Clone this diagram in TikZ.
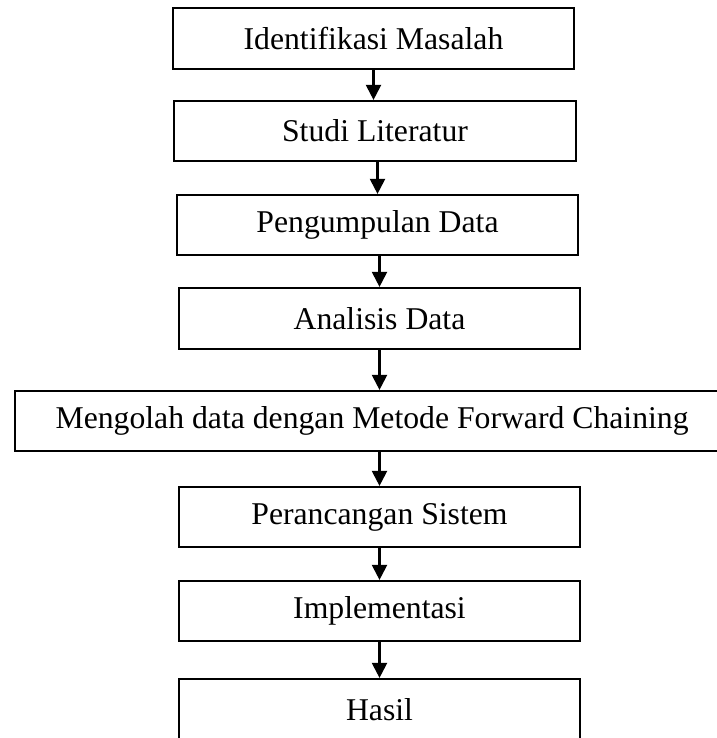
\documentclass[tikz,border=0pt]{standalone}
\usepackage{fontspec}
\setmainfont{Liberation Serif}
\usetikzlibrary{arrows.meta}
\begin{document}
\begin{tikzpicture}[x=1bp,y=-1bp,
  stepbox/.style={draw=black,line width=2.2bp,inner sep=0pt,fill=white,
    font=\fontsize{31.7bp}{38bp}\selectfont},
  flow/.style={line width=2.2bp,-{Triangle[width=15bp,length=15bp]}}]
\clip (0,0) rectangle (717,738);
\fill[white] (0,0) rectangle (717,738);
\node[stepbox,minimum width=401bp,minimum height=61bp] (b1) at (373.5,38.5) {Identifikasi Masalah};
\node[stepbox,minimum width=402bp,minimum height=60bp] (b2) at (375,131) {Studi Literatur};
\node[stepbox,minimum width=401bp,minimum height=60bp] (b3) at (377.5,225) {Pengumpulan Data};
\node[stepbox,minimum width=401bp,minimum height=61bp] (b4) at (379.5,318.5) {Analisis Data};
\node[stepbox,minimum width=710bp,minimum height=60bp,anchor=west] (b5) at (14,421) {\hspace*{4bp}Mengolah data dengan Metode Forward Chaining\hfill};
\node[stepbox,minimum width=401bp,minimum height=60bp] (b6) at (379.5,517) {Perancangan Sistem};
\node[stepbox,minimum width=401bp,minimum height=60bp] (b7) at (379.5,611) {Implementasi};
\node[stepbox,minimum width=401bp,minimum height=62bp] (b8) at (379.5,710) {Hasil};
\draw[flow] (b1.south) -- (b1.south |- b2.north);
\draw[flow] (b3.north |- b2.south) -- (b3.north);
\draw[flow] (b4.north |- b3.south) -- (b4.north);
\draw[flow] (b4.south) -- (b4.south |- b5.north);
\draw[flow] (b6.north |- b5.south) -- (b6.north);
\draw[flow] (b6.south) -- (b7.north);
\draw[flow] (b7.south) -- (b8.north);
\end{tikzpicture}
\end{document}
